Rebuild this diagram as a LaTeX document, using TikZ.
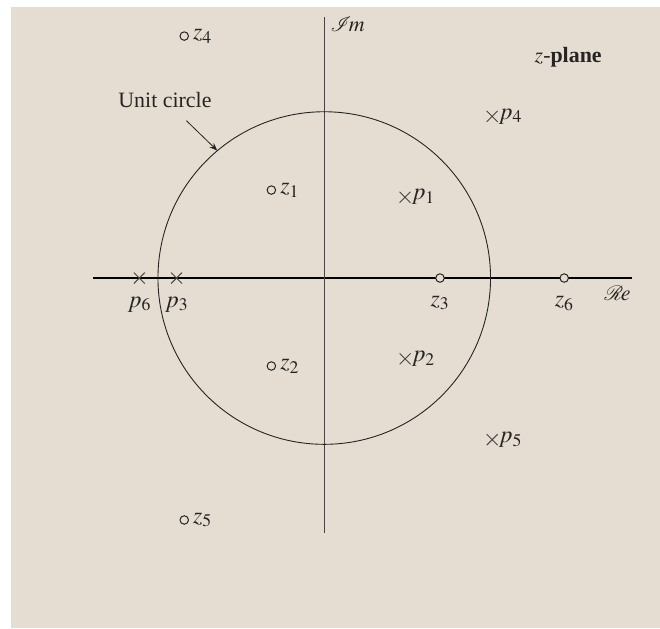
\documentclass[tikz,border=0pt]{standalone}
\usepackage{mathptmx}
\usepackage{mathrsfs}
\usepackage{fontspec}
\setmainfont{Liberation Serif}
\usepackage{xcolor}
\usetikzlibrary{positioning,arrows.meta,shapes.misc}

\definecolor{paper}{RGB}{229,221,210}
\definecolor{ink}{RGB}{38,36,34}

\begin{document}
\begin{tikzpicture}[>={Stealth[length=8bp,width=6bp]},x=5.87cm,y=5.87cm,
  zero/.style={circle,draw=ink,fill=paper,line width=1pt,minimum size=8.5bp,inner sep=0pt},
  pole/.style={cross out,draw=ink!85,line width=0.9pt,minimum size=10bp,inner sep=0pt},
  lbl/.style={font=\fontsize{22}{26}\selectfont,inner sep=1pt,text=ink},
  mlbl/.style={font=\fontsize{24}{28}\selectfont,inner sep=1pt,text=ink}]
  % page, paper and white margins
  \useasboundingbox (-1.950,-2.105) rectangle (2.019,1.672);
  \fill[paper] (-1.884,-2.105) rectangle (2.019,1.630);
  % axes
  \draw[line width=1.8pt,black] (-1.389,0) -- (1.848,0);
  \draw[line width=1.1pt,ink!85] (0,-1.533) -- (0,1.571);
  \node[lbl] (im) at (0.140,1.527) {$\mathscr{I}\!m$};
  \node[lbl] (re) at (1.763,-0.092) {$\mathscr{R}\!e$};
  \node[lbl] (zplane) at (1.467,1.328) {$z$-\textbf{plane}};
  % unit circle with its pointer
  \draw[line width=0.9pt,ink] (0,0) circle (1);
  \coordinate (uc) at (130:1);
  \node[lbl] (ucirc) at (-0.958,1.071) {Unit circle};
  \draw[->,ink,line width=0.8pt,shorten <=17bp] (ucirc) -- (uc);
  % zeros
  \node[zero] (z1) at (-0.318,0.529) {};
  \node[zero] (z2) at (-0.318,-0.529) {};
  \node[zero] (z3) at (0.696,0) {};
  \node[zero] (z4) at (-0.842,1.455) {};
  \node[zero] (z5) at (-0.842,-1.455) {};
  \node[zero] (z6) at (1.443,0) {};
  \node[mlbl,right=3bp of z1] (z1l) {$z_1$};
  \node[mlbl,right=3bp of z2] (z2l) {$z_2$};
  \node[mlbl,below=12bp of z3] (z3l) {$z_3$};
  \node[mlbl,right=3bp of z4] (z4l) {$z_4$};
  \node[mlbl,right=3bp of z5] (z5l) {$z_5$};
  \node[mlbl,below=12bp of z6] (z6l) {$z_6$};
  % poles
  \node[pole] (p1) at (0.486,0.486) {};
  \node[pole] (p2) at (0.486,-0.486) {};
  \node[pole] (p3) at (-0.888,0) {};
  \node[pole] (p4) at (1.010,0.972) {};
  \node[pole] (p5) at (1.010,-0.972) {};
  \node[pole] (p6) at (-1.112,0) {};
  \node[mlbl,right=0pt of p1] (p1l) {$p_1$};
  \node[mlbl,right=0pt of p2] (p2l) {$p_2$};
  \node[mlbl,below=12bp of p3] (p3l) {$p_3$};
  \node[mlbl,right=0pt of p4] (p4l) {$p_4$};
  \node[mlbl,right=0pt of p5] (p5l) {$p_5$};
  \node[mlbl,below=12bp of p6] (p6l) {$p_6$};
\end{tikzpicture}
\end{document}
